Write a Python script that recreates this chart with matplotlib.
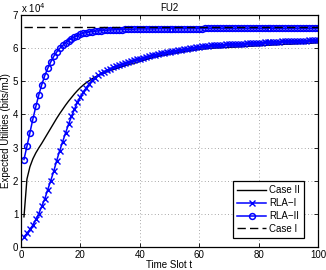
import matplotlib
matplotlib.use("Agg")
import matplotlib.pyplot as plt
import numpy as np

plt.rcParams["font.family"] = ["Liberation Sans", "DejaVu Sans"]

# time slots and expected utilities (units of 1e4 bits/mJ)
t = np.arange(1, 101)

case2 = [0.91, 2.05, 2.42, 2.66, 2.84, 2.99, 3.13, 3.28, 3.43, 3.58,
         3.73, 3.88, 4.02, 4.15, 4.28, 4.40, 4.51, 4.62, 4.72, 4.81,
         4.89, 4.96, 5.02, 5.08, 5.13, 5.18, 5.22, 5.26, 5.29, 5.32,
         5.35, 5.38, 5.41, 5.44, 5.47, 5.49, 5.52, 5.54, 5.57, 5.60,
         5.63, 5.65, 5.68, 5.70, 5.73, 5.75, 5.77, 5.78, 5.80, 5.82,
         5.83, 5.85, 5.86, 5.88, 5.89, 5.91, 5.92, 5.93, 5.95, 5.96,
         5.97, 5.98, 5.99, 6.00, 6.00, 6.01, 6.01, 6.02, 6.02, 6.02,
         6.03, 6.03, 6.04, 6.04, 6.05, 6.05, 6.06, 6.06, 6.07, 6.07,
         6.08, 6.08, 6.09, 6.09, 6.10, 6.10, 6.11, 6.11, 6.12, 6.12,
         6.12, 6.13, 6.13, 6.14, 6.14, 6.14, 6.15, 6.15, 6.16, 6.16]

rla1 = [0.31, 0.41, 0.53, 0.66, 0.83, 1.01, 1.23, 1.45, 1.73, 2.00,
        2.28, 2.60, 2.90, 3.17, 3.44, 3.70, 3.94, 4.16, 4.36, 4.53,
        4.68, 4.81, 4.93, 5.03, 5.11, 5.18, 5.24, 5.29, 5.34, 5.38,
        5.42, 5.45, 5.48, 5.51, 5.54, 5.57, 5.60, 5.63, 5.66, 5.68,
        5.71, 5.73, 5.76, 5.78, 5.80, 5.83, 5.85, 5.86, 5.88, 5.89,
        5.91, 5.92, 5.94, 5.95, 5.97, 5.98, 6.00, 6.01, 6.03, 6.04,
        6.05, 6.06, 6.07, 6.08, 6.08, 6.09, 6.10, 6.10, 6.11, 6.12,
        6.12, 6.13, 6.13, 6.14, 6.14, 6.15, 6.15, 6.16, 6.16, 6.17,
        6.17, 6.18, 6.18, 6.19, 6.19, 6.20, 6.20, 6.21, 6.21, 6.21,
        6.22, 6.22, 6.22, 6.23, 6.23, 6.23, 6.24, 6.24, 6.24, 6.25]

rla2 = [2.64, 3.04, 3.45, 3.86, 4.24, 4.59, 4.90, 5.17, 5.39, 5.58,
        5.75, 5.88, 5.99, 6.08, 6.16, 6.23, 6.29, 6.34, 6.38, 6.42,
        6.45, 6.47, 6.49, 6.50, 6.51, 6.52, 6.53, 6.54, 6.54, 6.55,
        6.55, 6.56, 6.56, 6.56, 6.57, 6.57, 6.57, 6.57, 6.58, 6.58,
        6.58, 6.58, 6.58, 6.58, 6.58, 6.59, 6.59, 6.59, 6.59, 6.59,
        6.59, 6.59, 6.59, 6.59, 6.59, 6.59, 6.59, 6.59, 6.59, 6.59,
        6.59, 6.60, 6.60, 6.60, 6.60, 6.60, 6.60, 6.60, 6.60, 6.60,
        6.60, 6.60, 6.60, 6.60, 6.60, 6.60, 6.60, 6.60, 6.60, 6.60,
        6.60, 6.60, 6.60, 6.60, 6.60, 6.60, 6.60, 6.60, 6.60, 6.60,
        6.60, 6.60, 6.60, 6.60, 6.60, 6.60, 6.60, 6.60, 6.60, 6.60]

case1 = 6.63

fig = plt.figure(figsize=(3.26, 2.70), dpi=100)
ax = fig.add_axes([21 / 326, 23 / 270, 297 / 326, 232 / 270])

ax.plot(t, case2, color="black", linewidth=1.0, label="Case II")
ax.plot(t, rla1, color="blue", linewidth=1.1, marker="x", markersize=3.8,
        markeredgewidth=1.0, label="RLA\u2212I")
ax.plot(t, rla2, color="blue", linewidth=1.1, marker="o", markersize=4.2,
        markerfacecolor="none", markeredgewidth=1.1, label="RLA\u2212II")
ax.plot([t[0], t[-1]], [case1, case1], color="black", linewidth=1.0,
        linestyle=(0, (6, 3)), label="Case I")

ax.set_xlim(0, 100)
ax.set_ylim(0, 7)
ax.set_xticks(np.arange(0, 101, 20))
ax.set_yticks(np.arange(0, 8, 1))
ax.tick_params(direction="in", length=3, width=0.6, labelsize=7, pad=2,
               top=True, right=True)
ax.grid(True, linestyle=(0, (1, 3)), color="0.55", linewidth=0.6)
for spine in ax.spines.values():
    spine.set_linewidth(0.9)

ax.set_title("FU2", fontsize=7, pad=3)
ax.set_xlabel("Time Slot t", fontsize=7, labelpad=0)
ax.set_ylabel("Expected Utilities (bits/mJ)", fontsize=7, labelpad=1)
fig.text(21 / 326, 1 - 8 / 270, "x 10$^4$", fontsize=7, va="center", ha="left")

leg = ax.legend(loc="lower right", bbox_to_anchor=(0.952, 0.04), fontsize=7,
                fancybox=False, framealpha=1, edgecolor="black",
                handlelength=3.0, borderpad=0.4, labelspacing=0.3,
                handletextpad=0.3, borderaxespad=0)
leg.get_frame().set_linewidth(0.9)

fig.savefig("out.png", dpi=100)
